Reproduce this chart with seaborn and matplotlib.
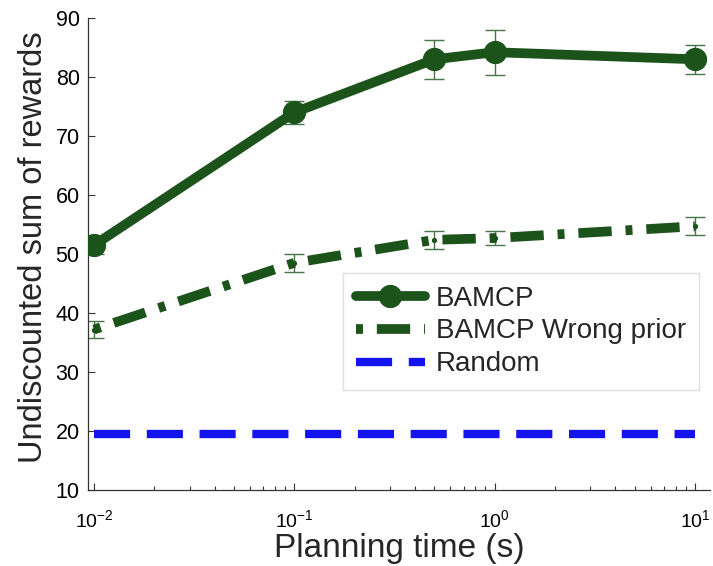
import numpy as np
import pandas as pd
import seaborn as sns
import matplotlib
matplotlib.use("Agg")
import matplotlib.pyplot as plt

# Data
times = [0.01, 0.1, 0.5, 1.0, 10.0]
bamcp = [51.5, 74.0, 83.0, 84.2, 83.0]
bamcp_err = [1.5, 2.0, 3.3, 3.8, 2.5]
wrong = [37.2, 48.5, 52.4, 52.7, 54.7]
wrong_err = [1.5, 1.5, 1.5, 1.2, 1.5]
random_x = [0.01, 10.0]
random_y = [19.5, 19.5]
xticks = [0.01, 0.1, 1.0, 10.0]
yticks = [10, 20, 30, 40, 50, 60, 70, 80, 90]

sns.set_theme(style="ticks")
plt.rcParams['font.family'] = ['Liberation Sans', 'DejaVu Sans']
plt.rcParams['mathtext.fontset'] = 'custom'
plt.rcParams['mathtext.rm'] = 'Liberation Sans'
plt.rcParams['mathtext.it'] = 'Liberation Sans'
plt.rcParams['lines.scale_dashes'] = False

green = '#1b531b'
blue = '#1414f0'

W, H = 713, 566
fig = plt.figure(figsize=(W / 100, H / 100), dpi=100)
ax = fig.add_axes([88 / W, 1 - 490 / H, (710 - 88) / W, (490 - 18) / H])

df = pd.DataFrame({'t': times, 'b': bamcp, 'w': wrong})
dr = pd.DataFrame({'t': random_x, 'r': random_y})

ax.errorbar(times, bamcp, yerr=bamcp_err, fmt='none', ecolor='#477547',
            elinewidth=1.0, capsize=7, capthick=1.0, zorder=2)
ax.errorbar(times, wrong, yerr=wrong_err, fmt='none', ecolor='#477547',
            elinewidth=1.0, capsize=7, capthick=1.0, zorder=2)

sns.lineplot(data=df, x='t', y='b', ax=ax, color=green, lw=7, marker='o',
             markersize=16, markeredgecolor=green, label='BAMCP', zorder=3)
sns.lineplot(data=df, x='t', y='w', ax=ax, color=green, lw=7,
             marker='.', markersize=6, markeredgecolor=green,
             label='BAMCP Wrong prior', zorder=3)
ax.lines[-1].set_dashes([5, 10, 24, 10])
sns.lineplot(data=dr, x='t', y='r', ax=ax, color=blue, lw=6, label='Random', zorder=3)
ax.lines[-1].set_dashes([26, 12])

ax.set_xscale('log')
ax.set_xlim(10 ** -2.03, 10 ** 1.075)
ax.set_ylim(10, 90)
ax.set_xticks(xticks)
ax.set_yticks(yticks)
ax.tick_params(axis='both', which='both', direction='in',
               colors='#333333', labelcolor='black')
ax.tick_params(axis='y', labelsize=15.5, pad=6)
ax.tick_params(axis='x', labelsize=14, pad=14)
ax.tick_params(axis='both', which='major', length=5, width=0.8)
ax.tick_params(axis='x', which='minor', length=3, width=0.8)
ax.set_xlabel('Planning time (s)', fontsize=24, labelpad=0)
ax.xaxis.set_label_coords(0.5, -(557 - 490) / (490 - 18))
ax.xaxis.label.set_va('baseline')
ax.set_ylabel('Undiscounted sum of rewards', fontsize=23.5)
ax.yaxis.set_label_coords(-(88 - 42) / (710 - 88), 0.5 + 7 / 472)
ax.yaxis.label.set_va('baseline')
for s in ['top', 'right']:
    ax.spines[s].set_visible(False)
for s in ['left', 'bottom']:
    ax.spines[s].set_color('#333333')
    ax.spines[s].set_linewidth(0.9)

leg = ax.legend(loc='upper left', bbox_to_anchor=(343 / W, 1 - 273 / H),
                bbox_transform=fig.transFigure, borderaxespad=0, fontsize=20,
                frameon=True, fancybox=False, edgecolor='#e0e0e0', framealpha=1,
                handlelength=2.5, handletextpad=0.4, labelspacing=0.25,
                borderpad=0.45)
leg.get_frame().set_linewidth(1.0)

fig.savefig('out.png', dpi=100)
